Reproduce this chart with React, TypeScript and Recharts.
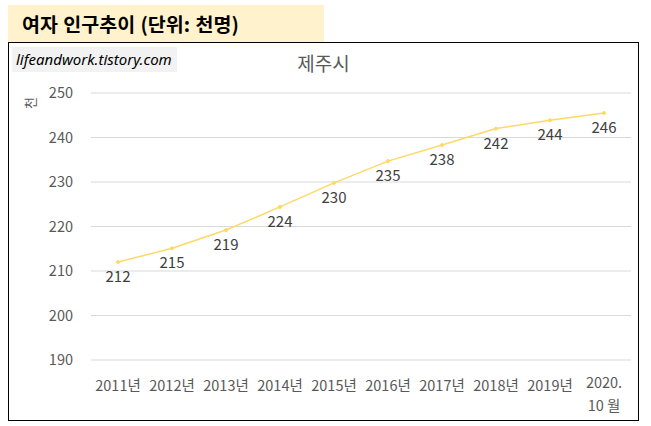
import React from 'react';
import { LineChart, Line, XAxis, YAxis, CartesianGrid, LabelList } from 'recharts';

const categories = ['2011년', '2012년', '2013년', '2014년', '2015년', '2016년', '2017년', '2018년', '2019년', '2020.\n10 월'];
const values = [212.0, 215.1, 219.2, 224.4, 229.8, 234.7, 238.3, 242.0, 243.9, 245.5];
const yTicks = [190, 200, 210, 220, 230, 240, 250];

const data = categories.map((c, i) => ({ name: c, value: values[i] }));

const FONT = '"Noto Sans CJK KR", "Noto Sans", sans-serif';

const XTick = (props: any) => {
  const { x, y, payload } = props;
  const lines = String(payload.value).split('\n');
  const multi = lines.length > 1;
  return (
    <g>
      {lines.map((l, i) => (
        <text
          key={i}
          x={x}
          y={y + (multi ? 28 : 31) + i * 23}
          textAnchor="middle"
          fill="#595959"
          fontSize={14.5}
          fontFamily={FONT}
        >
          {l}
        </text>
      ))}
    </g>
  );
};

const ValueLabel = (props: any) => {
  const { x, y, value } = props;
  return (
    <text x={x} y={y + 20} textAnchor="middle" fill="#404040" fontSize={15} fontFamily={FONT}>
      {Math.round(value)}
    </text>
  );
};

export default function App() {
  return (
    <div style={{ position: 'absolute', left: 0, top: 0, width: 651, height: 426, background: '#fff', fontFamily: FONT }}>
      <div
        style={{
          position: 'absolute', left: 8, top: 5, width: 316, height: 37, background: '#fff2cc',
        }}
      />
      <div
        style={{
          position: 'absolute', left: 22, top: 5, height: 37, lineHeight: '37px', fontSize: 19.5, fontWeight: 700,
          color: '#000', whiteSpace: 'nowrap', fontFamily: FONT, wordSpacing: 1,
        }}
      >
        여자 인구추이 (단위: 천명)
      </div>
      <div
        style={{
          position: 'absolute', left: 8, top: 42, width: 631, height: 379, border: '1.5px solid #000',
          boxSizing: 'border-box',
        }}
      />
      <div style={{ position: 'absolute', left: 12, top: 47, width: 165, height: 25, background: '#f2f2f2' }} />
      <div
        style={{
          position: 'absolute', left: 16, top: 47, height: 25, lineHeight: '25px', fontSize: 15, fontStyle: 'italic',
          color: '#000', fontFamily: '"Noto Sans", sans-serif', whiteSpace: 'nowrap',
        }}
      >
        lifeandwork.tistory.com
      </div>
      <div
        style={{
          position: 'absolute', left: 8, width: 631, top: 50, textAlign: 'center', fontSize: 19, color: '#595959',
          lineHeight: '26px', fontFamily: FONT,
        }}
      >
        제주시
      </div>
      <div
        style={{
          position: 'absolute', left: 22, top: 94, width: 16, height: 18, lineHeight: '18px', textAlign: 'center',
          fontSize: 13, color: '#595959', transform: 'rotate(-90deg)', fontFamily: FONT,
        }}
      >
        천
      </div>
      <div style={{ position: 'absolute', left: 0, top: 0 }}>
        <LineChart width={651} height={426} data={data} margin={{ top: 93, right: 20, bottom: 36, left: 0 }}>
          <CartesianGrid horizontal vertical={false} stroke="#d9d9d9" strokeWidth={1} />
          <XAxis
            dataKey="name"
            scale="point"
            height={30}
            padding={{ left: 27, right: 27 }}
            axisLine={false}
            tickLine={false}
            tickSize={0}
            tickMargin={0}
            interval={0}
            tick={<XTick />}
          />
          <YAxis
            width={91}
            domain={[190, 250]}
            ticks={yTicks}
            axisLine={false}
            tickLine={false}
            tickSize={0}
            tickMargin={18}
            tick={{ fill: '#595959', fontSize: 14.5, fontFamily: FONT }}
          />
          <Line
            type="linear"
            dataKey="value"
            stroke="#ffd966"
            strokeWidth={1.5}
            dot={{ r: 1.5, fill: '#ffd966', stroke: '#ffd966', strokeWidth: 1 }}
            activeDot={false}
            isAnimationActive={false}
          >
            <LabelList dataKey="value" content={<ValueLabel />} />
          </Line>
        </LineChart>
      </div>
    </div>
  );
}
